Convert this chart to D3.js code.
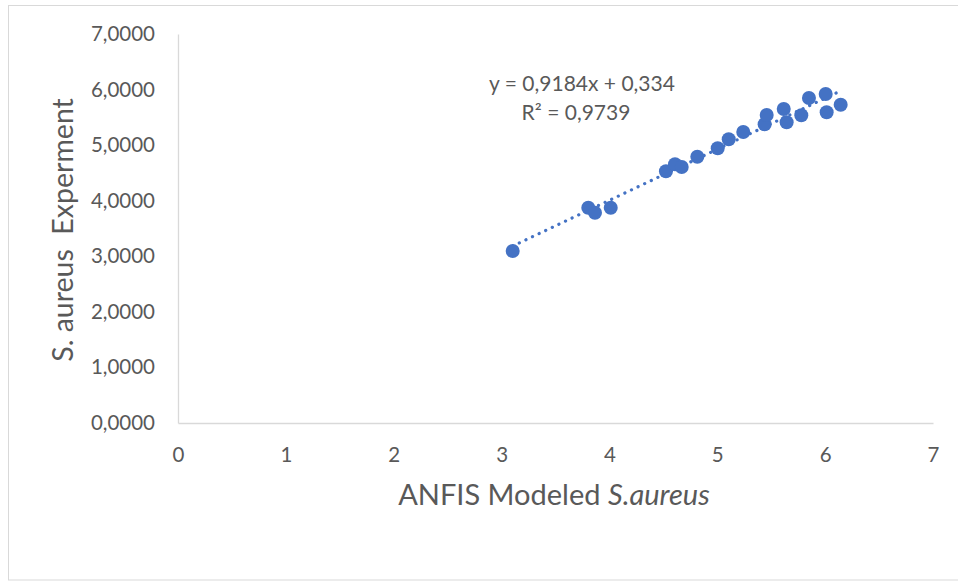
<!DOCTYPE html>
<html>
<head>
<meta charset="utf-8">
<script src="https://cdn.jsdelivr.net/npm/d3@7"></script>
<style>
  html, body { margin: 0; padding: 0; background: #fff; }
  svg { display: block; }
  text { font-family: Lato, "Open Sans", sans-serif; fill: #595959; }
</style>
</head>
<body>
<svg id="chart" width="958" height="581"></svg>
<script>
// ---- data ----
const modeled = [3.103, 3.804, 3.866, 4.012, 4.524, 4.608, 4.670, 4.815, 5.004, 5.106,
                 5.241, 5.439, 5.458, 5.616, 5.643, 5.779, 5.850, 6.005, 6.014, 6.144];
const experiment = [3.095, 3.874, 3.784, 3.874, 4.529, 4.655, 4.607, 4.792, 4.943, 5.105,
                    5.237, 5.375, 5.543, 5.651, 5.411, 5.537, 5.849, 5.920, 5.591, 5.728];
const xTicks = [0, 1, 2, 3, 4, 5, 6, 7];
const yTicks = [0, 1, 2, 3, 4, 5, 6, 7];
const slope = 0.9184, intercept = 0.334, r2 = 0.9739;
const xTitle = "ANFIS Modeled ";
const xTitleItalic = "S.aureus";
const yTitle = "S. aureus\u00a0\u00a0Experment";

const svg = d3.select("#chart");
const color = "#4472C4";

// outer chart border
svg.append("rect").attr("x", 8.5).attr("y", 5.5).attr("width", 960).attr("height", 574.5)
  .attr("fill", "none").attr("stroke", "#D9D9D9").attr("stroke-width", 1);

const x = d3.scaleLinear().domain([0, 7]).range([178, 933]);
const y = d3.scaleLinear().domain([0, 7]).range([423, 34]);

const fmtComma = d => d3.format(".4f")(d).replace(".", ",");

// y axis
const yAxis = svg.append("g").attr("transform", `translate(${x(0)},0)`)
  .call(d3.axisLeft(y).tickValues(yTicks).tickSize(0).tickPadding(23).tickFormat(fmtComma));
yAxis.select(".domain").attr("stroke", "#D9D9D9").attr("stroke-width", 1.3);
yAxis.selectAll("text").style("font-size", "20.5px").attr("fill", "#595959")
  .style("font-family", "Lato, sans-serif");

// x axis
const xAxis = svg.append("g").attr("transform", `translate(0,${y(0)})`)
  .call(d3.axisBottom(x).tickValues(xTicks).tickSize(0).tickPadding(24).tickFormat(d3.format("d")));
xAxis.select(".domain").attr("stroke", "#D9D9D9").attr("stroke-width", 1.3);
xAxis.selectAll("text").style("font-size", "20.5px").attr("fill", "#595959")
  .style("font-family", "Lato, sans-serif");

// trendline (dotted)
const xMin = d3.min(modeled), xMax = d3.max(modeled);
svg.append("line")
  .attr("x1", x(xMin)).attr("y1", y(slope * xMin + intercept))
  .attr("x2", x(xMax)).attr("y2", y(slope * xMax + intercept))
  .attr("stroke", color).attr("stroke-width", 3.2)
  .attr("stroke-linecap", "round").attr("stroke-dasharray", "0.1 7.2");

// points
svg.append("g").selectAll("circle")
  .data(modeled.map((m, i) => [m, experiment[i]]))
  .join("circle")
  .attr("cx", d => x(d[0])).attr("cy", d => y(d[1]))
  .attr("r", 7).attr("fill", color);

// equation label
const eq = svg.append("text").attr("text-anchor", "middle").style("font-size", "21px");
eq.append("tspan").attr("x", 582).attr("y", 91)
  .text(`y = ${String(slope).replace(".", ",")}x + ${String(intercept).replace(".", ",")}`);
eq.append("tspan").attr("x", 576).attr("y", 120)
  .text(`R² = ${String(r2).replace(".", ",")}`);

// x axis title
const xt = svg.append("text").attr("x", 554).attr("y", 505).attr("text-anchor", "middle")
  .style("font-size", "29px");
xt.append("tspan").text(xTitle);
xt.append("tspan").style("font-style", "italic").text(xTitleItalic);

// y axis title
svg.append("text").attr("transform", "translate(73,230) rotate(-90)")
  .attr("text-anchor", "middle").style("font-size", "28.5px").text(yTitle);
</script>
</body>
</html>
